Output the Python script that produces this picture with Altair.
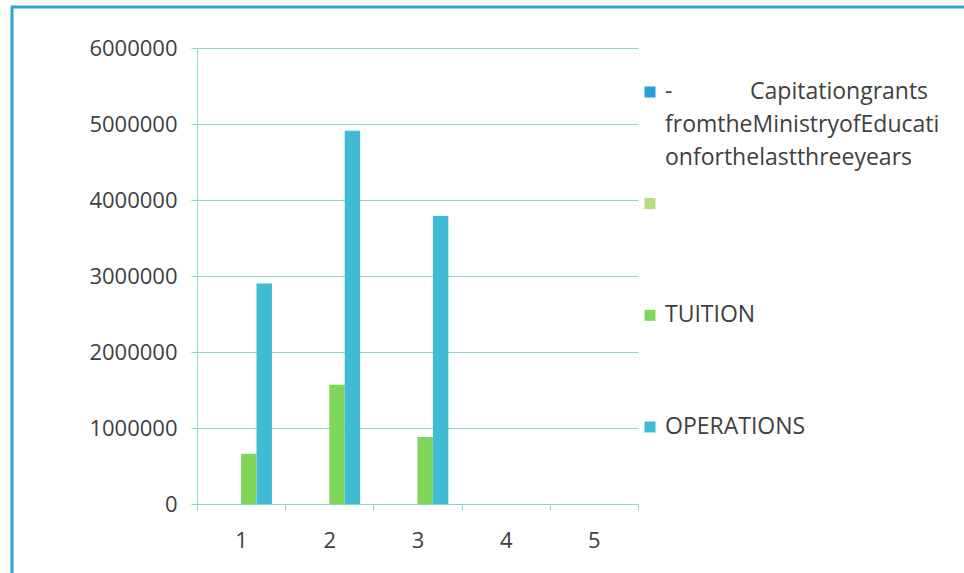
import altair as alt
import pandas as pd

# ---- data ----
categories = ["1", "2", "3", "4", "5"]
series_keys = ["capitation", "blank", "TUITION", "OPERATIONS"]
NB = "\u00a0"
legend_labels = [
    "-" + NB * 13 + "Capitationgrants\nfromtheMinistryofEducati\nonforthelastthreeyears",
    "",
    "TUITION",
    "OPERATIONS",
]
series_colors = ["#2A9FD6", "#B4DD80", "#7FD65A", "#41BBD3"]
tuition = [660000, 1570000, 880000, None, None]
operations = [2900000, 4910000, 3790000, None, None]
y_ticks = [0, 1000000, 2000000, 3000000, 4000000, 5000000, 6000000]

rows = []
for c, t, o in zip(categories, tuition, operations):
    if t is not None:
        rows.append({"cat": c, "series": "TUITION", "value": t})
    if o is not None:
        rows.append({"cat": c, "series": "OPERATIONS", "value": o})
df = pd.DataFrame(rows)

legend_df = pd.DataFrame({
    "key": series_keys,
    "label": legend_labels,
    "pos": [0, 1, 2, 3],
})

FONT = "Open Sans"
TEAL = "#8CD9C8"
TEXT = "#404040"
BORDER = "#2BA6CE"

color_scale = alt.Scale(domain=series_keys, range=series_colors)

bars = alt.Chart(df).mark_bar().encode(
    x=alt.X(
        "cat:N",
        sort=categories,
        scale=alt.Scale(domain=categories, paddingInner=0, paddingOuter=0),
        axis=alt.Axis(
            title=None, labelAngle=0, tickBand="extent", grid=False,
            domainColor=TEAL, tickColor=TEAL, tickSize=6,
            labelFont=FONT, labelFontSize=22, labelColor=TEXT, labelPadding=20,
        ),
    ),
    xOffset=alt.XOffset("series:N", scale=alt.Scale(domain=series_keys, paddingInner=0, paddingOuter=0.86)),
    y=alt.Y(
        "value:Q",
        scale=alt.Scale(domain=[0, 6000000], nice=False),
        axis=alt.Axis(
            title=None, values=y_ticks, format="d", grid=True, gridColor=TEAL,
            domainColor=TEAL, tickColor=TEAL, tickSize=6,
            labelFont=FONT, labelFontSize=22, labelColor=TEXT, labelPadding=14,
        ),
    ),
    color=alt.Color("series:N", scale=color_scale, legend=None),
)

legend_y = alt.Y("pos:Q", scale=alt.Scale(domain=[0, 3], range=[44, 379]), axis=None)

sym = alt.Chart(legend_df).mark_square(size=121, opacity=1).encode(
    x=alt.value(453),
    y=legend_y,
    color=alt.Color("key:N", scale=color_scale, legend=None),
)

txt_single = alt.Chart(legend_df).transform_filter("datum.pos > 0").mark_text(
    align="left", baseline="middle", font=FONT, fontSize=23, color=TEXT,
).encode(x=alt.value(468), y=legend_y, text="label:N")

txt_multi = alt.Chart(legend_df).transform_filter("datum.pos == 0").mark_text(
    align="left", baseline="middle", lineBreak="\n", lineHeight=33,
    font=FONT, fontSize=23, color=TEXT,
).encode(x=alt.value(468), y=legend_y, text="label:N")

border_df = pd.DataFrame({"a": [0]})
left_border = alt.Chart(border_df).mark_rule(color=BORDER, strokeWidth=3).encode(
    x=alt.value(-185), y=alt.value(-41), y2=alt.value(525)
)
top_border = alt.Chart(border_df).mark_rule(color=BORDER, strokeWidth=3).encode(
    x=alt.value(-186), x2=alt.value(767), y=alt.value(-41)
)

chart = alt.layer(bars, left_border, top_border, sym, txt_single, txt_multi).resolve_scale(
    y="independent"
).properties(
    width=441,
    height=456,
    autosize=alt.AutoSizeParams(type="none"),
    padding={"left": 197, "top": 48, "right": 326, "bottom": 69},
    background="white",
).configure_view(stroke=None)

chart.save("out.html", embed_options={"renderer": "svg", "actions": False})
